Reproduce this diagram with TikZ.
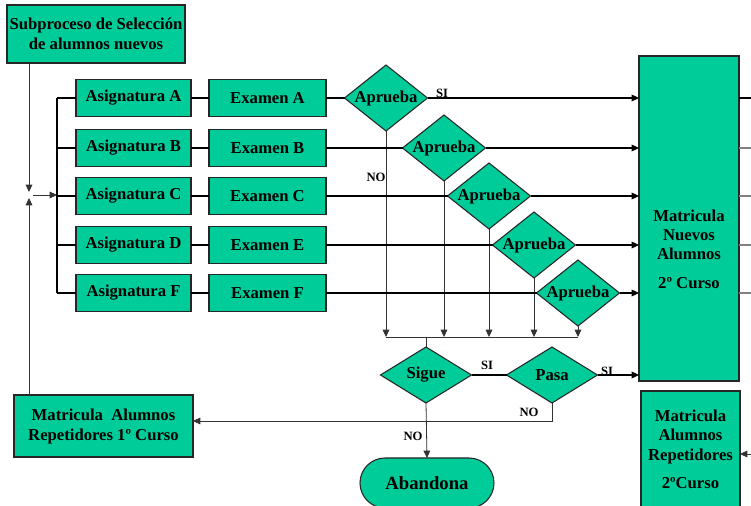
\documentclass[tikz,border=0pt]{standalone}
\usepackage{fontspec}
\setmainfont{Liberation Serif}
\usetikzlibrary{shapes.geometric,shapes.misc,arrows.meta}
\definecolor{boxgreen}{RGB}{0,204,153}

\begin{document}
\begin{tikzpicture}[x=0.75pt,y=-0.75pt,
  sz/.style 2 args={minimum width=#1*0.75pt,minimum height=#2*0.75pt},
  base/.style={draw=black!85,fill=boxgreen,line width=0.8pt,inner sep=0pt,outer sep=0pt,
    align=center,font=\fontsize{12.5}{15}\selectfont\bfseries},
  box/.style={base,rectangle},
  dec/.style={base,diamond},
  lbl/.style={font=\fontsize{9.5}{11}\selectfont\bfseries,inner sep=0pt},
  wire/.style={line width=0.9pt,black},
  thinw/.style={line width=0.6pt,black!80},
  arr/.style={-{Triangle[length=5.5pt,width=5pt]}}]

\useasboundingbox[fill=white] (0,0) rectangle (751,506);

% --- boxes ---
\node[box,sz={178}{58}] (sub) at (96,34) {Subproceso de Selección\\de alumnos nuevos};

\foreach \r/\y in {A/98,B/148,C/196,D/245,F/293} {
  \node[box,sz={115}{37}] (asig\r) at (133.5,\y) {Asignatura \r};
}
\node[box,sz={117}{37}] (exA) at (267.5,98)  {Examen A};
\node[box,sz={117}{37}] (exB) at (267.5,148) {Examen B};
\node[box,sz={117}{37}] (exC) at (267.5,196) {Examen C};
\node[box,sz={117}{37}] (exD) at (267.5,245) {Examen E};
\node[box,sz={117}{37}] (exF) at (267.5,293) {Examen F};

\node[dec,aspect=1.26,sz={83}{66}] (dA) at (386,98)  {Aprueba};
\node[dec,aspect=1.26,sz={83}{66}] (dB) at (444,148) {Aprueba};
\node[dec,aspect=1.26,sz={83}{66}] (dC) at (489,196) {Aprueba};
\node[dec,aspect=1.26,sz={83}{66}] (dD) at (534,245) {Aprueba};
\node[dec,aspect=1.26,sz={83}{66}] (dF) at (578,293) {Aprueba};

\node[box,sz={100}{325}] (mat) at (689,218.5) {};
\node[align=center,inner sep=0pt,font=\fontsize{12.5}{14.25}\selectfont\bfseries] (matT) at (689,249)
  {Matricula\\Nuevos\\Alumnos\\[7.5pt]2º Curso};

\node[dec,aspect=1.625,sz={91}{56}] (sigue) at (426,375) {Sigue};
\node[dec,aspect=1.625,sz={91}{56}] (pasa)  at (552,375) {Pasa};

\node[box,sz={179}{62}] (rep1) at (103.5,426) {Matricula\ \ Alumnos\\Repetidores 1º Curso};

\node[base,rounded rectangle,sz={134}{50},font=\fontsize{14}{16}\selectfont\bfseries] (aband) at (427,483) {Abandona};

\node[box,sz={99}{140}] (rep2) at (690.5,461) {};
\node[align=center,inner sep=0pt,font=\fontsize{12.5}{14.6}\selectfont\bfseries] (rep2T) at (690.5,449)
  {Matricula\\Alumnos\\Repetidores\\[6.3pt]2ºCurso};

% --- helper coordinates ---
\coordinate (jdown) at (29,192);
\coordinate (jup)   at (29,198);
\coordinate (jfrom) at (33,195);
\coordinate (bus)   at (57,195);
\coordinate (edge)  at (751,0);
\coordinate (nobus) at (0,337);
\coordinate (back)  at (552,421);
\coordinate (edgeR) at (751,454);

% --- feed into the subjects ---
\draw[thinw,arr] (sub.south -| jdown) -- (jdown);
\draw[thinw,arr] (rep1.north -| jup) -- (jup);
\draw[thinw,arr] (jfrom) -- (bus);
\draw[wire] (asigA.west -| bus) -- (asigF.west -| bus);

\foreach \r/\c in {A/black,B/gray,C/gray,D/gray,F/gray} {
  \draw[wire] (asig\r.west) -- (asig\r.west -| bus);
  \draw[wire] (asig\r.east) -- (ex\r.west);
  \draw[wire] (ex\r.east) -- (d\r.west);
  \draw[wire,arr] (d\r.east) -- (d\r.east -| mat.west);
  \draw[line width=0.8pt,\c] (d\r -| mat.east) -- (d\r -| edge);
  \draw[thinw,arr] (d\r.south) -- (d\r.south |- nobus);
}

% --- failed exams ---
\draw[thinw] (dA.south |- nobus) -- (dF.south |- nobus);
\draw[thinw] (sigue.north |- nobus) -- (sigue.north);
\draw[wire] (sigue.east) -- (pasa.west);
\draw[wire,arr] (pasa.east) -- (pasa.east -| mat.west);
\draw[thinw,arr] (pasa.south) -- (pasa.south |- back) -- (back -| rep1.east);
\draw[thinw,arr] (sigue.south) -- (aband.north);
\draw[thinw,arr] (edgeR) -- (edgeR -| rep2.east);

% --- labels ---
\node[lbl] (siA)  at (442,93)  {SI};
\node[lbl] (noA)  at (376,177) {NO};
\node[lbl] (siS)  at (487,365) {SI};
\node[lbl] (siP)  at (607,371) {SI};
\node[lbl] (noP)  at (529,412) {NO};
\node[lbl] (noS)  at (413,436) {NO};
\end{tikzpicture}
\end{document}
